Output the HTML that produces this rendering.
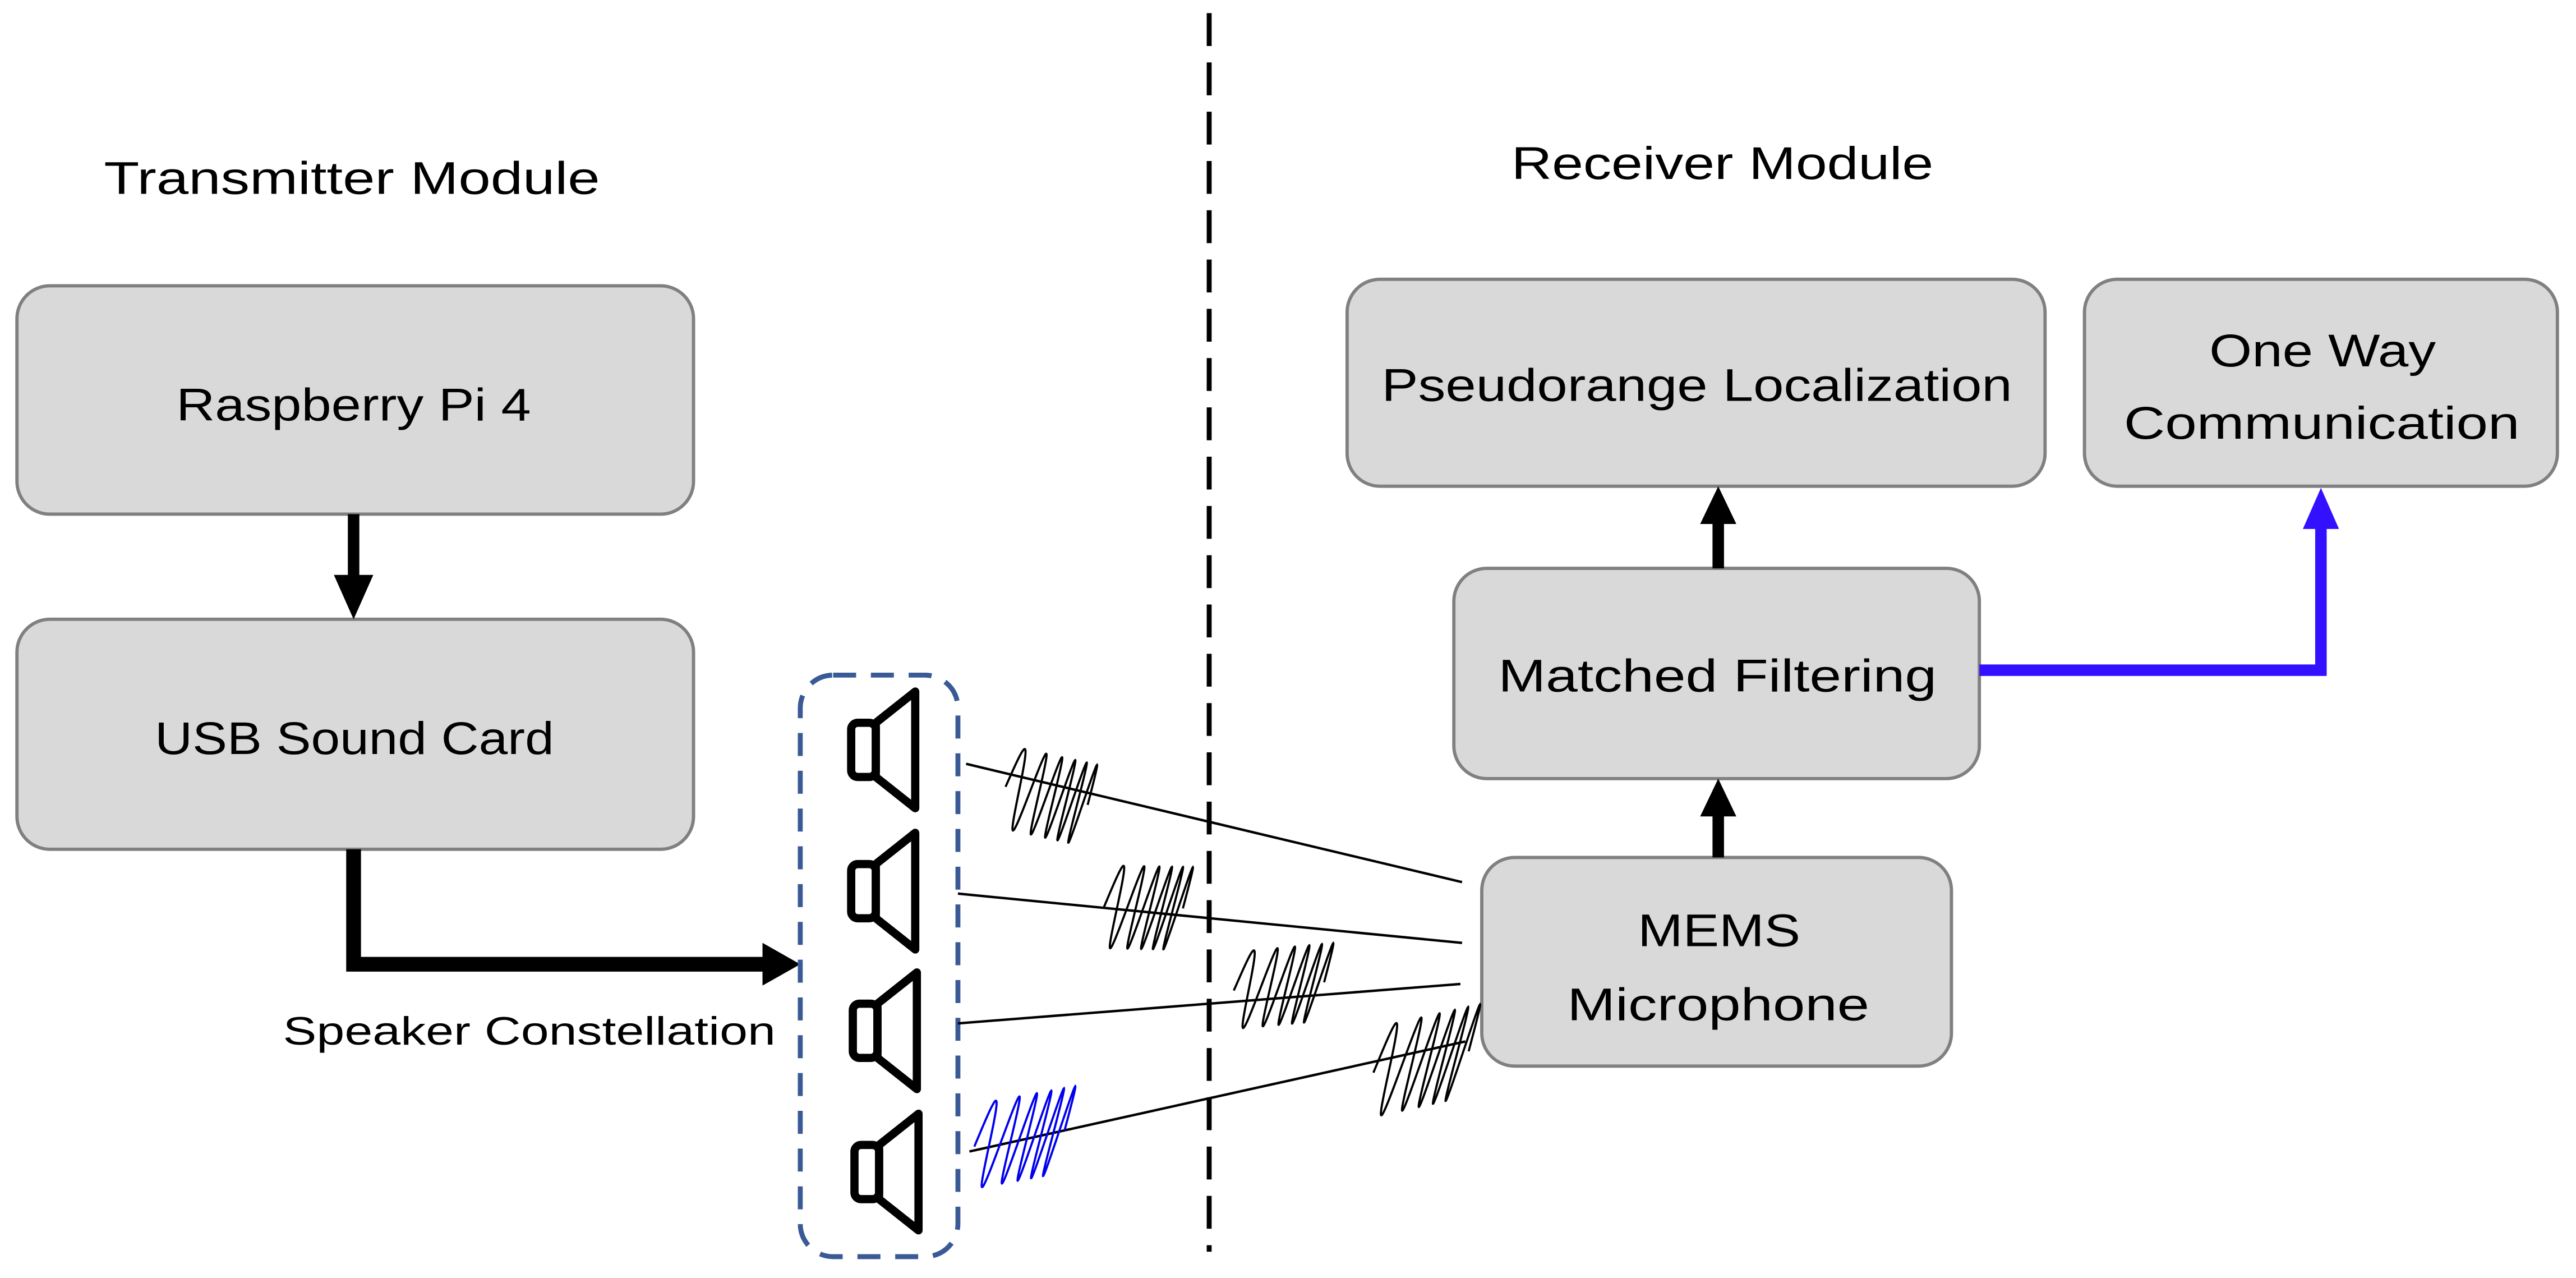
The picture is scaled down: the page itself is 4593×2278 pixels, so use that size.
<!DOCTYPE html>
<html><head><meta charset="utf-8"><style>
html,body{margin:0;padding:0;background:#fff}
svg{display:block}
text{font-family:"Liberation Sans",sans-serif;fill:#000}
</style></head><body>
<svg width="4593" height="2278" viewBox="0 0 1568 778" xmlns="http://www.w3.org/2000/svg">
<rect width="1568" height="778" fill="#fff"/>
<line x1="736" y1="8" x2="736" y2="762" stroke="#000" stroke-width="3" stroke-dasharray="20,10"/>
<text x="63" y="118" font-size="28" textLength="302" lengthAdjust="spacingAndGlyphs">Transmitter Module</text>
<text x="920" y="109" font-size="28" textLength="257" lengthAdjust="spacingAndGlyphs">Receiver Module</text>
<g fill="#d9d9d9" stroke="#808080" stroke-width="2">
<rect x="10" y="174" width="412" height="139" rx="20"/>
<rect x="10" y="377" width="412" height="140" rx="20"/>
<rect x="820" y="170" width="425" height="126" rx="20"/>
<rect x="1269" y="170" width="288" height="126" rx="20"/>
<rect x="885" y="346" width="320" height="128" rx="20"/>
<rect x="902" y="522" width="286" height="127" rx="20"/>
</g>
<text x="107" y="256" font-size="28" textLength="216" lengthAdjust="spacingAndGlyphs">Raspberry Pi 4</text>
<text x="94" y="459" font-size="28" textLength="243" lengthAdjust="spacingAndGlyphs">USB Sound Card</text>
<text x="841" y="244" font-size="28" textLength="384" lengthAdjust="spacingAndGlyphs">Pseudorange Localization</text>
<text x="1345" y="223" font-size="28" textLength="138" lengthAdjust="spacingAndGlyphs">One Way</text>
<text x="1293" y="267" font-size="28" textLength="241" lengthAdjust="spacingAndGlyphs">Communication</text>
<text x="912" y="421" font-size="28" textLength="267" lengthAdjust="spacingAndGlyphs">Matched Filtering</text>
<text x="997" y="576" font-size="28" textLength="99" lengthAdjust="spacingAndGlyphs">MEMS</text>
<text x="954" y="621" font-size="28" textLength="184" lengthAdjust="spacingAndGlyphs">Microphone</text>
<text x="172" y="636" font-size="24" textLength="300" lengthAdjust="spacingAndGlyphs">Speaker Constellation</text>
<line x1="215" y1="313" x2="215" y2="352" stroke="#000" stroke-width="7"/>
<polygon points="203,350 227,350 215,377" fill="#000"/>
<polyline points="215,517 215,587 466,587" fill="none" stroke="#000" stroke-width="9"/>
<polygon points="464,574 464,600 487,587" fill="#000"/>
<line x1="1046" y1="522" x2="1046" y2="494" stroke="#000" stroke-width="7"/>
<polygon points="1035,497 1057,497 1046,474" fill="#000"/>
<line x1="1046" y1="346" x2="1046" y2="316" stroke="#000" stroke-width="7"/>
<polygon points="1035,319 1057,319 1046,296" fill="#000"/>
<polyline points="1205,408 1413,408 1413,318" fill="none" stroke="#3311ff" stroke-width="7"/>
<polygon points="1402,322 1424,322 1413,297" fill="#3311ff"/>
<rect x="487" y="411" width="96" height="354" rx="20" fill="none" stroke="#3a5a96" stroke-width="3" stroke-dasharray="14,9"/>
<g fill="none" stroke="#000" stroke-width="5" stroke-linejoin="round">
<g transform="translate(0,0)"><rect x="518" y="440" width="15" height="33" rx="4"/><polygon points="533,440 557,421 557,492 533,473"/></g>
<g transform="translate(0,86)"><rect x="518" y="440" width="15" height="33" rx="4"/><polygon points="533,440 557,421 557,492 533,473"/></g>
<g transform="translate(1,171)"><rect x="518" y="440" width="15" height="33" rx="4"/><polygon points="533,440 557,421 557,492 533,473"/></g>
<g transform="translate(2,257)"><rect x="518" y="440" width="15" height="33" rx="4"/><polygon points="533,440 557,421 557,492 533,473"/></g>
</g>
<g stroke="#000" stroke-width="1.5">
<line x1="588" y1="465" x2="890" y2="537"/>
<line x1="583" y1="544" x2="890" y2="574"/>
<line x1="583" y1="623" x2="889" y2="599"/>
<line x1="590" y1="701" x2="892" y2="634"/>
</g>
<g id="waves" fill="none" stroke-width="1.3"></g>
<script>
(function(){
var g=document.getElementById('waves');
var W=[[612,662,479,490,24,'#000'],[672,720,552,553,25,'#000'],[751,806,603,598,24,'#000'],[836,894,653,640,29,'#000'],[593,648,698,688,27,'#0000ee']];
W.forEach(function(w){
 var d='';for(var i=0;i<=400;i++){var t=i/400;var x=w[0]+t*(w[1]-w[0]);var yc=w[2]+t*(w[3]-w[2]);
 var ph=2*Math.PI*(2.5*t+3*t*t);var dy=-w[4]*Math.sin(ph);var y=yc+dy;x=x-dy*0.3;
 d+=(i?'L':'M')+x.toFixed(2)+','+y.toFixed(2);}
 var p=document.createElementNS('http://www.w3.org/2000/svg','path');p.setAttribute('d',d);p.setAttribute('stroke',w[5]);g.appendChild(p);
});
})();
</script>
</svg>
</body></html>
